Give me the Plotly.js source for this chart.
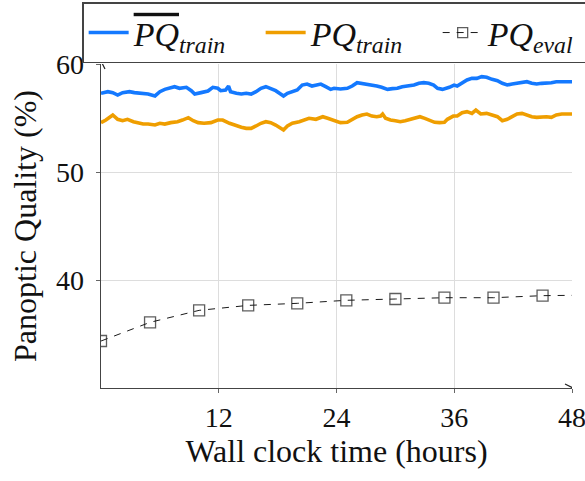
<!DOCTYPE html>
<html>
<head>
<meta charset="utf-8">
<script src="https://cdn.plot.ly/plotly-3.0.1.min.js"></script>
<style>
html,body{margin:0;padding:0;background:#fff;}
#chart{width:585px;height:481px;}
</style>
</head>
<body>
<div id="chart"></div>
<script>
// ---- data ----
var avgTrainHours = [0.0,0.7,1.2,1.7,2.2,2.9,3.4,4.1,4.8,5.5,6.0,6.5,7.0,7.5,8.0,8.7,9.2,9.55,10.2,10.9,11.4,11.9,
  12.2,12.7,13.0,13.2,13.8,14.3,14.8,15.3,15.8,16.3,16.8,17.3,17.8,18.3,18.6,19.0,19.5,20.0,20.5,21.0,21.5,22.0,22.4,22.9,23.4,23.75,
  24.4,25.1,25.6,26.1,26.6,27.1,27.6,28.1,28.6,29.2,29.7,30.2,30.7,31.2,31.9,32.4,32.9,33.4,33.9,34.3,34.8,35.5,35.98,
  36.3,36.8,37.3,37.8,38.3,38.8,39.3,39.85,40.4,40.9,41.4,41.9,42.4,42.9,43.4,43.9,44.4,44.9,45.4,45.9,46.4,46.95,47.5,48.0];
var avgTrainPQ = [57.29,57.44,57.35,57.13,57.35,57.44,57.35,57.29,57.22,57.04,57.44,57.65,57.75,57.90,57.75,57.84,57.53,57.22,57.35,57.50,57.84,57.75,
  57.53,57.59,57.96,57.44,57.29,57.22,57.29,57.22,57.44,57.75,57.90,57.75,57.53,57.22,57.04,57.29,57.44,57.59,58.05,58.14,57.96,58.05,58.14,57.90,57.65,57.75,
  57.69,57.75,57.96,58.27,58.21,58.14,58.05,57.96,57.84,57.65,57.72,57.75,57.90,57.96,58.05,58.21,58.27,58.21,58.05,57.75,57.65,57.84,58.05,
  57.96,58.21,58.52,58.67,58.67,58.83,58.77,58.58,58.46,58.21,58.06,58.15,58.21,58.27,58.36,58.21,58.15,58.21,58.21,58.27,58.36,58.36,58.36,58.36];

var trainHours = [0.0,0.5,1.2,1.7,2.2,2.7,3.3,3.8,4.3,4.8,5.5,6.0,6.5,7.1,7.8,8.3,8.9,9.4,9.9,10.5,11.2,11.9,
  12.4,13.1,13.8,14.3,14.8,15.3,15.8,16.3,16.8,17.3,17.8,18.3,18.6,19.0,19.5,20.2,20.7,21.2,21.9,22.6,23.1,23.6,23.9,
  24.4,25.1,25.6,26.1,26.6,27.1,27.6,28.1,28.5,28.7,29.0,29.5,30.0,30.5,31.0,31.5,32.0,32.5,33.0,33.5,34.0,34.5,35.0,35.3,35.9,
  36.3,36.8,37.3,37.8,38.2,38.7,39.3,39.85,40.4,40.9,41.4,41.9,42.4,42.9,43.4,43.9,44.4,44.9,45.4,45.9,46.4,46.95,47.5,48.0];
var trainPQ = [54.57,54.81,55.28,54.88,54.75,54.88,54.66,54.51,54.44,54.44,54.35,54.51,54.44,54.57,54.66,54.81,55.03,54.75,54.57,54.51,54.57,54.81,
  54.81,54.51,54.26,54.14,54.04,54.04,54.26,54.51,54.66,54.57,54.35,54.04,53.89,54.26,54.51,54.66,54.81,54.97,54.88,55.12,54.97,54.81,54.66,
  54.57,54.60,54.88,55.12,55.28,55.37,55.18,55.12,55.18,55.37,54.97,54.81,54.75,54.66,54.75,54.88,55.06,55.12,54.97,54.81,54.60,54.57,54.60,54.88,55.18,
  55.18,55.49,55.59,55.43,55.74,55.37,55.43,55.28,55.12,54.75,54.88,55.12,55.37,55.43,55.28,55.12,55.06,55.12,55.12,55.06,55.28,55.37,55.37,55.37];

var evalHours = [0,5,10,15,20,25,30,35,40,45,48];
var evalPQ    = [34.35,36.08,37.19,37.65,37.84,38.12,38.24,38.36,38.36,38.55,38.58];
var evalHasMarker = [1,1,1,1,1,1,1,1,1,1,0];

var xTickVals = [12,24,36,48];
var xTickText = ['12','24','36','48'];
var yTickVals = [40,50,60];
var yTickText = ['40','50','60'];

// ---- styling ----
var FONT = 'Liberation Serif, Times New Roman, serif';
var BLUE = '#1479ff';
var ORANGE = '#ef9e00';

var traces = [
  {x: avgTrainHours, y: avgTrainPQ, type: 'scatter', mode: 'lines',
   name: '<span style="text-decoration:overline"><i>PQ</i></span><sub><i>train</i></sub>',
   line: {color: BLUE, width: 3.6}},
  {x: trainHours, y: trainPQ, type: 'scatter', mode: 'lines',
   name: '<i>PQ</i><sub><i>train</i></sub>',
   line: {color: ORANGE, width: 3.6}},
  {x: evalHours, y: evalPQ, type: 'scatter', mode: 'lines+markers',
   name: '<i>PQ</i><sub><i>eval</i></sub>',
   line: {color: '#1a1a1a', width: 1, dash: '7px,7px'},
   marker: {symbol: 'square-open', size: evalHasMarker.map(function(m){return m ? 11 : 0;}),
            color: '#1a1a1a', line: {color: '#1a1a1a', width: 1.3}}}
];

var layout = {
  width: 585, height: 481,
  margin: {l: 101, r: 13, t: 64, b: 93, pad: 0, autoexpand: false},
  paper_bgcolor: '#fff', plot_bgcolor: '#fff',
  font: {family: FONT, size: 28, color: '#111'},
  showlegend: true,
  legend: {orientation: 'h', x: -0.04, xanchor: 'left', y: 1.19, yanchor: 'top',
           bordercolor: '#444', borderwidth: 1.5, bgcolor: '#fff',
           font: {family: FONT, size: 34, color: '#111'},
           itemwidth: 40, entrywidth: 122, entrywidthmode: 'pixels', tracegroupgap: 0},
  xaxis: {range: [0, 48], tickvals: xTickVals, ticktext: xTickText,
          showgrid: true, gridcolor: '#dddddd', gridwidth: 1,
          showline: true, linecolor: '#444', linewidth: 1.3,
          ticks: 'outside', ticklen: 4, tickcolor: '#666', tickwidth: 1,
          ticklabeloverflow: 'allow',
          zeroline: false, tickfont: {family: FONT, size: 28, color: '#111'},
          title: {text: 'Wall clock time (hours)', font: {family: FONT, size: 32, color: '#111'}, standoff: 3}},
  yaxis: {range: [30, 60], tickvals: yTickVals, ticktext: yTickText,
          showgrid: true, gridcolor: '#dddddd', gridwidth: 1,
          showline: true, linecolor: '#444', linewidth: 1.3,
          ticks: 'outside', ticklen: 4, tickcolor: '#666', tickwidth: 1,
          ticklabelstandoff: 6,
          zeroline: false, tickfont: {family: FONT, size: 28, color: '#111'},
          title: {text: 'Panoptic Quality (%)', font: {family: FONT, size: 32, color: '#111'}, standoff: 10}},
  shapes: [
    {type: 'path', xref: 'x', yref: 'y', xsizemode: 'pixel', ysizemode: 'pixel',
     xanchor: 48, yanchor: 30, path: 'M-7,4 L1,0 L-7,-4',
     line: {color: '#222', width: 1.2}},
    {type: 'path', xref: 'x', yref: 'y', xsizemode: 'pixel', ysizemode: 'pixel',
     xanchor: 0, yanchor: 60, path: 'M-4,-5 L0,3 L4,-5',
     line: {color: '#222', width: 1.2}}
  ]
};

Plotly.newPlot('chart', traces, layout, {displayModeBar: false, staticPlot: true});
</script>
</body>
</html>
